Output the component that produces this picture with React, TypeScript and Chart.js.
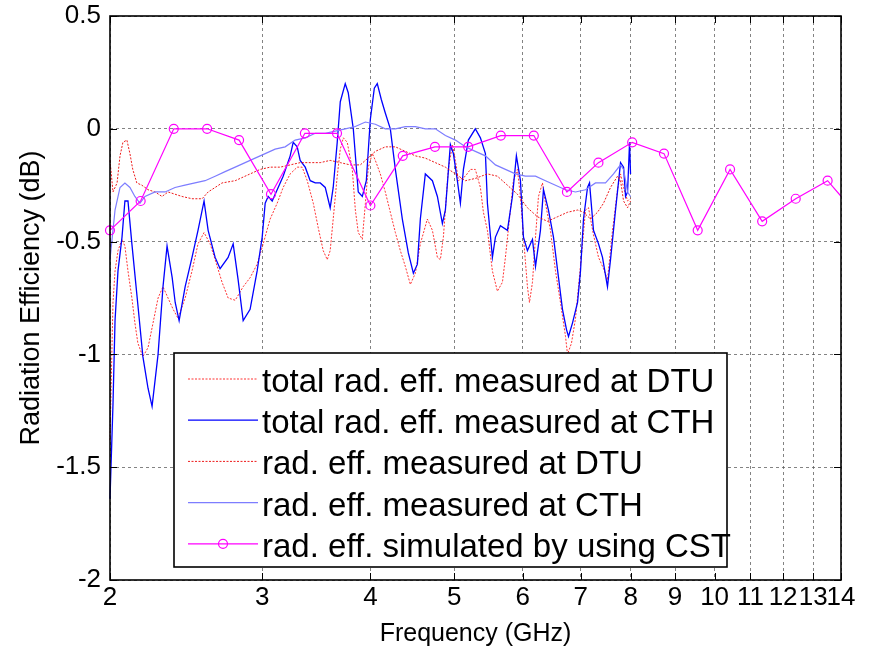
import React, { useEffect, useRef } from "react";
import { Chart, registerables } from "chart.js";

Chart.register(...registerables);

// ---------- data (frequency in GHz, efficiency in dB) ----------
const totalDtuFreq = [2.000, 2.011, 2.016, 2.027, 2.043, 2.065, 2.081, 2.098, 2.120, 2.137, 2.154, 2.183, 2.213, 2.243, 2.273, 2.303, 2.334, 2.366, 2.397, 2.443, 2.488, 2.528, 2.569, 2.611, 2.646, 2.695, 2.739, 2.791, 2.851, 2.904, 2.959, 3.007, 3.063, 3.121, 3.171, 3.231, 3.292, 3.336, 3.381, 3.436, 3.482, 3.528, 3.566, 3.594, 3.623, 3.662, 3.692, 3.722, 3.761, 3.812, 3.843, 3.873, 3.915, 3.947, 3.978, 4.021, 4.053, 4.107, 4.162, 4.218, 4.275, 4.332, 4.390, 4.449, 4.509, 4.569, 4.655, 4.718, 4.781, 4.819, 4.858, 4.922, 4.976, 5.016, 5.056, 5.151, 5.220, 5.289, 5.361, 5.404, 5.462, 5.535, 5.609, 5.685, 5.730, 5.807, 5.853, 5.916, 5.964, 6.012, 6.076, 6.109, 6.158, 6.208, 6.257, 6.324, 6.375, 6.460, 6.547, 6.635, 6.724, 6.760, 6.832, 6.906, 6.961, 7.036, 7.092, 7.149, 7.244, 7.342, 7.440, 7.519, 7.621, 7.723, 7.785, 7.848, 7.932, 7.995];
const totalDtuDb = [-1.38, -0.95, -0.77, -0.63, -0.54, -0.49, -0.52, -0.63, -0.75, -0.86, -0.95, -1.01, -0.97, -0.86, -0.75, -0.70, -0.75, -0.80, -0.84, -0.75, -0.63, -0.51, -0.46, -0.51, -0.58, -0.68, -0.75, -0.76, -0.70, -0.66, -0.60, -0.51, -0.40, -0.33, -0.26, -0.20, -0.17, -0.17, -0.23, -0.33, -0.44, -0.54, -0.58, -0.54, -0.40, -0.21, -0.09, -0.04, -0.06, -0.18, -0.36, -0.46, -0.49, -0.33, -0.17, -0.11, -0.14, -0.20, -0.28, -0.37, -0.46, -0.54, -0.61, -0.69, -0.64, -0.51, -0.40, -0.45, -0.57, -0.58, -0.48, -0.18, -0.07, -0.14, -0.23, -0.21, -0.18, -0.18, -0.26, -0.37, -0.45, -0.63, -0.72, -0.68, -0.57, -0.36, -0.23, -0.18, -0.30, -0.48, -0.70, -0.77, -0.68, -0.48, -0.30, -0.24, -0.33, -0.45, -0.63, -0.77, -0.92, -1.00, -0.95, -0.84, -0.70, -0.51, -0.36, -0.35, -0.47, -0.57, -0.62, -0.67, -0.45, -0.27, -0.20, -0.26, -0.32, -0.31];

const totalCthFreq = [2.000, 2.016, 2.027, 2.043, 2.065, 2.081, 2.098, 2.120, 2.154, 2.183, 2.213, 2.237, 2.273, 2.303, 2.328, 2.360, 2.379, 2.404, 2.443, 2.488, 2.528, 2.569, 2.597, 2.646, 2.681, 2.739, 2.776, 2.813, 2.851, 2.904, 2.959, 2.999, 3.023, 3.047, 3.080, 3.121, 3.171, 3.231, 3.257, 3.292, 3.318, 3.363, 3.408, 3.454, 3.500, 3.547, 3.594, 3.623, 3.662, 3.692, 3.741, 3.771, 3.822, 3.873, 3.915, 3.957, 3.999, 4.042, 4.074, 4.118, 4.162, 4.218, 4.275, 4.355, 4.425, 4.485, 4.533, 4.569, 4.630, 4.718, 4.781, 4.845, 4.884, 4.949, 4.989, 5.042, 5.083, 5.124, 5.192, 5.289, 5.361, 5.433, 5.462, 5.535, 5.580, 5.654, 5.761, 5.838, 5.900, 5.964, 6.012, 6.076, 6.158, 6.208, 6.290, 6.341, 6.426, 6.512, 6.600, 6.670, 6.742, 6.778, 6.851, 6.943, 6.998, 7.054, 7.130, 7.168, 7.244, 7.342, 7.420, 7.519, 7.580, 7.682, 7.785, 7.848, 7.890, 7.932, 7.974, 7.995];
const totalCthDb = [-1.64, -1.22, -0.85, -0.63, -0.48, -0.32, -0.32, -0.51, -0.78, -1.01, -1.15, -1.23, -1.00, -0.70, -0.52, -0.66, -0.77, -0.85, -0.70, -0.57, -0.45, -0.32, -0.45, -0.57, -0.62, -0.57, -0.51, -0.67, -0.85, -0.80, -0.63, -0.48, -0.33, -0.30, -0.32, -0.27, -0.21, -0.12, -0.06, -0.08, -0.14, -0.17, -0.23, -0.24, -0.24, -0.26, -0.35, -0.26, -0.06, 0.12, 0.20, 0.16, 0.00, -0.28, -0.30, -0.23, 0.04, 0.18, 0.20, 0.13, 0.07, 0.00, -0.18, -0.40, -0.55, -0.64, -0.60, -0.40, -0.20, -0.23, -0.30, -0.42, -0.36, -0.07, -0.11, -0.23, -0.33, -0.18, -0.05, 0.00, -0.04, -0.11, -0.33, -0.57, -0.48, -0.43, -0.45, -0.30, -0.12, -0.23, -0.48, -0.54, -0.49, -0.61, -0.45, -0.27, -0.36, -0.48, -0.66, -0.80, -0.89, -0.92, -0.86, -0.77, -0.63, -0.40, -0.26, -0.24, -0.45, -0.51, -0.57, -0.70, -0.58, -0.36, -0.15, -0.17, -0.30, -0.28, -0.06, -0.20];

const radDtuFreq = [2.000, 2.016, 2.038, 2.054, 2.070, 2.092, 2.109, 2.125, 2.148, 2.177, 2.213, 2.255, 2.297, 2.334, 2.378, 2.423, 2.488, 2.556, 2.597, 2.646, 2.695, 2.791, 2.904, 2.983, 3.063, 3.146, 3.231, 3.318, 3.408, 3.500, 3.594, 3.692, 3.791, 3.894, 3.947, 4.053, 4.162, 4.275, 4.390, 4.509, 4.630, 4.755, 4.884, 5.016, 5.151, 5.289, 5.462, 5.609, 5.761, 5.916, 6.076, 6.241, 6.409, 6.582, 6.760, 6.943, 7.054, 7.187, 7.322, 7.440, 7.580, 7.723, 7.785, 7.848, 7.932, 7.995];
const radDtuDb = [-0.14, -0.28, -0.24, -0.12, -0.06, -0.05, -0.11, -0.18, -0.24, -0.25, -0.27, -0.28, -0.30, -0.28, -0.29, -0.30, -0.31, -0.31, -0.28, -0.26, -0.24, -0.23, -0.20, -0.18, -0.17, -0.17, -0.16, -0.15, -0.15, -0.15, -0.14, -0.15, -0.16, -0.16, -0.14, -0.10, -0.08, -0.08, -0.10, -0.12, -0.13, -0.15, -0.17, -0.20, -0.23, -0.22, -0.20, -0.21, -0.25, -0.29, -0.35, -0.39, -0.41, -0.39, -0.37, -0.36, -0.37, -0.40, -0.37, -0.33, -0.26, -0.21, -0.23, -0.32, -0.35, -0.32];

const radCthFreq = [2.000, 2.027, 2.054, 2.081, 2.109, 2.137, 2.166, 2.195, 2.255, 2.316, 2.378, 2.442, 2.508, 2.576, 2.646, 2.717, 2.791, 2.866, 2.943, 3.023, 3.104, 3.188, 3.274, 3.363, 3.454, 3.547, 3.643, 3.741, 3.843, 3.947, 4.053, 4.162, 4.275, 4.390, 4.509, 4.630, 4.755, 4.884, 5.016, 5.151, 5.289, 5.433, 5.580, 5.730, 5.885, 6.044, 6.208, 6.375, 6.547, 6.724, 6.906, 7.092, 7.283, 7.480, 7.641, 7.785, 7.848, 7.932, 7.995];
const radCthDb = [-0.58, -0.36, -0.26, -0.24, -0.26, -0.30, -0.33, -0.30, -0.28, -0.28, -0.26, -0.25, -0.24, -0.23, -0.21, -0.19, -0.17, -0.15, -0.13, -0.11, -0.09, -0.08, -0.05, -0.04, -0.02, -0.02, -0.01, 0.00, 0.01, 0.03, 0.02, 0.00, 0.00, 0.01, 0.01, 0.00, 0.00, -0.03, -0.05, -0.08, -0.10, -0.12, -0.16, -0.18, -0.20, -0.21, -0.21, -0.23, -0.25, -0.27, -0.28, -0.27, -0.24, -0.24, -0.20, -0.16, -0.18, -0.28, -0.30];

const cstFreq = [2.00, 2.17, 2.37, 2.59, 2.82, 3.07, 3.36, 3.66, 4.00, 4.36, 4.75, 5.19, 5.66, 6.18, 6.75, 7.34, 8.03, 8.74, 9.56, 10.42, 11.35, 12.41, 13.51, 14.75];
const cstDb = [-0.45, -0.32, 0.00, 0.00, -0.05, -0.29, -0.02, -0.02, -0.34, -0.12, -0.08, -0.08, -0.03, -0.03, -0.28, -0.15, -0.06, -0.11, -0.45, -0.18, -0.41, -0.31, -0.23, -0.40];

const xTicks = [2, 3, 4, 5, 6, 7, 8, 9, 10, 11, 12, 13, 14];
const yTicks = [0.5, 0, -0.5, -1, -1.5, -2];

const seriesLabels = [
  "total rad. eff. measured at DTU",
  "total rad. eff. measured at CTH",
  "rad. eff. measured at DTU",
  "rad. eff. measured at CTH",
  "rad. eff. simulated by using CST",
];

const xTitle = "Frequency (GHz)";
const yTitle = "Radiation Efficiency (dB)";

// ---------- styles ----------
const FONT = "'Liberation Sans', Arial, Helvetica, sans-serif";
const W = 872;
const H = 649;

const styles = [
  { color: "rgba(255,30,30,0.9)", width: 1, dash: [2, 1.5], point: false },
  { color: "#0000ff", width: 1.3, dash: [], point: false },
  { color: "rgba(235,0,0,0.9)", width: 1, dash: [2, 1.5], point: false },
  { color: "rgb(125,125,255)", width: 1.2, dash: [], point: false },
  { color: "#ff00ff", width: 1.2, dash: [], point: true },
];

function toPoints(xs: number[], ys: number[]) {
  return xs.map((x, i) => ({ x, y: ys[i] }));
}

const framePlugin = {
  id: "matlabFrame",
  afterDatasetsDraw(chart: any) {
    const { ctx, chartArea, scales } = chart;
    const { left, right, top, bottom } = chartArea;
    ctx.save();
    ctx.setLineDash([]);
    ctx.strokeStyle = "#000";
    ctx.lineWidth = 1;
    const tl = 7;
    ctx.beginPath();
    xTicks.forEach((v) => {
      const px = Math.round(scales.x.getPixelForValue(v)) + 0.5;
      ctx.moveTo(px, bottom);
      ctx.lineTo(px, bottom - tl);
      ctx.moveTo(px, top);
      ctx.lineTo(px, top + tl);
    });
    yTicks.forEach((v) => {
      const py = Math.round(scales.y.getPixelForValue(v)) + 0.5;
      ctx.moveTo(left, py);
      ctx.lineTo(left + tl, py);
      ctx.moveTo(right, py);
      ctx.lineTo(right - tl, py);
    });
    ctx.stroke();

    // axes box
    ctx.lineWidth = 1.6;
    ctx.strokeRect(left, top, right - left, bottom - top);

    // legend
    const bx = 174;
    const by = 353;
    const bw = 553;
    const bh = 214;
    ctx.fillStyle = "#fff";
    ctx.fillRect(bx, by, bw, bh);
    ctx.lineWidth = 1.6;
    ctx.strokeStyle = "#000";
    ctx.strokeRect(bx, by, bw, bh);

    const rowH = 41.2;
    const firstY = 379;
    ctx.font = `33px ${FONT}`;
    ctx.textBaseline = "alphabetic";
    ctx.textAlign = "left";
    seriesLabels.forEach((label, i) => {
      const s = styles[i];
      const y = firstY + i * rowH;
      ctx.save();
      ctx.strokeStyle = s.color;
      ctx.lineWidth = s.width;
      ctx.setLineDash(s.dash);
      ctx.beginPath();
      ctx.moveTo(188, y);
      ctx.lineTo(258, y);
      ctx.stroke();
      if (s.point) {
        ctx.setLineDash([]);
        ctx.beginPath();
        ctx.arc(223, y, 4.5, 0, Math.PI * 2);
        ctx.stroke();
      }
      ctx.restore();
      ctx.fillStyle = "#000";
      ctx.fillText(label, 262, y + 13);
    });
    ctx.restore();
  },
};

export default function App() {
  const canvasRef = useRef<HTMLCanvasElement | null>(null);

  useEffect(() => {
    const canvas = canvasRef.current;
    if (!canvas) return;
    const seriesX = [totalDtuFreq, totalCthFreq, radDtuFreq, radCthFreq, cstFreq];
    const seriesY = [totalDtuDb, totalCthDb, radDtuDb, radCthDb, cstDb];

    const datasets = seriesLabels.map((label, i) => {
      const s = styles[i];
      return {
        label,
        data: toPoints(seriesX[i], seriesY[i]),
        borderColor: s.color,
        backgroundColor: s.color,
        borderWidth: s.width,
        borderDash: s.dash,
        pointRadius: s.point ? 4.5 : 0,
        pointHoverRadius: s.point ? 4.5 : 0,
        pointStyle: "circle",
        pointBorderColor: s.color,
        pointBorderWidth: 1.2,
        pointBackgroundColor: "rgba(0,0,0,0)",
        tension: 0,
        fill: false,
        order: 4 - i,
        clip: s.point ? { left: 8, top: 8, right: 0, bottom: 8 } : 1,
      };
    });

    const chart = new Chart(canvas, {
      type: "line",
      data: { datasets },
      options: {
        responsive: false,
        animation: false,
        devicePixelRatio: 1,
        layout: { padding: { left: 0, right: 31, top: 16, bottom: 0 } },
        plugins: {
          legend: { display: false },
          tooltip: { enabled: false },
        },
        scales: {
          x: {
            type: "logarithmic",
            min: 2,
            max: 14,
            afterBuildTicks: (scale: any) => {
              scale.ticks = xTicks.map((v) => ({ value: v }));
            },
            afterFit: (scale: any) => {
              scale.height = 69;
              scale.paddingLeft = 0;
              scale.paddingRight = 0;
            },
            ticks: {
              autoSkip: false,
              maxRotation: 0,
              minRotation: 0,
              padding: 2,
              color: "#000",
              font: { family: FONT, size: 26 },
              callback: (v: any) => String(v),
            },
            grid: {
              color: "rgba(90,90,90,0.75)",
              lineWidth: 1,
              drawTicks: false,
            },
            border: { display: false, dash: [3, 3] },
            title: {
              display: true,
              text: xTitle,
              color: "#000",
              font: { family: FONT, size: 25 },
              padding: { top: 0, bottom: 0 },
            },
          },
          y: {
            type: "linear",
            min: -2,
            max: 0.5,
            afterBuildTicks: (scale: any) => {
              scale.ticks = yTicks.map((v) => ({ value: v }));
            },
            afterFit: (scale: any) => {
              scale.width = 110;
              scale.paddingTop = 0;
              scale.paddingBottom = 0;
            },
            ticks: {
              padding: 9,
              color: "#000",
              font: { family: FONT, size: 26 },
              callback: (v: any) => String(v),
            },
            grid: {
              color: "rgba(90,90,90,0.75)",
              lineWidth: 1,
              drawTicks: false,
            },
            border: { display: false, dash: [3, 3] },
            title: {
              display: true,
              text: yTitle,
              color: "#000",
              font: { family: FONT, size: 27 },
              padding: { top: 15, bottom: 0 },
            },
          },
        },
      },
      plugins: [framePlugin],
    } as any);

    return () => {
      chart.destroy();
    };
  }, []);

  return (
    <div style={{ position: "absolute", left: 0, top: 0, width: W, height: H, background: "#fff" }}>
      <canvas ref={canvasRef} width={W} height={H} style={{ display: "block", width: W, height: H }} />
    </div>
  );
}
